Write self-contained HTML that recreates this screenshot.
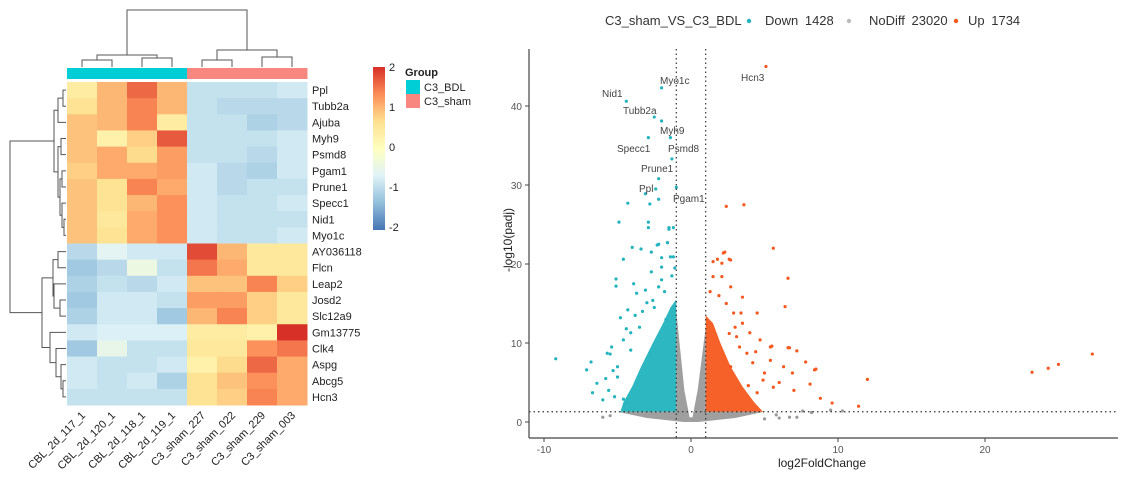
<!DOCTYPE html>
<html><head><meta charset="utf-8"><style>
html,body{margin:0;padding:0;background:#fff;}
svg{display:block;font-family:"Liberation Sans","DejaVu Sans",sans-serif;}
</style></head><body>
<svg id="root" width="1124" height="477" viewBox="0 0 1124 477" xmlns="http://www.w3.org/2000/svg">
<g id="heat"></g>
<g id="volc"></g>
</svg>
<script>
// ---------- Heatmap data ----------
const genes = ["Ppl","Tubb2a","Ajuba","Myh9","Psmd8","Pgam1","Prune1","Specc1","Nid1","Myo1c","AY036118","Flcn","Leap2","Josd2","Slc12a9","Gm13775","Clk4","Aspg","Abcg5","Hcn3"];
const samples = ["CBL_2d_117_1","CBL_2d_120_1","CBL_2d_118_1","CBL_2d_119_1","C3_sham_227","C3_sham_022","C3_sham_229","C3_sham_003"];
const sampleGroups = ["C3_BDL","C3_BDL","C3_BDL","C3_BDL","C3_sham","C3_sham","C3_sham","C3_sham"];
const zValues = [
[0.4,1.0,1.6,1.0,-0.9,-0.9,-0.9,-0.8],
[0.6,1.0,1.4,1.0,-0.9,-1.0,-1.0,-1.0],
[0.9,1.0,1.4,0.4,-0.9,-0.9,-1.1,-1.0],
[0.9,0.3,0.8,1.7,-0.9,-0.9,-0.9,-0.8],
[0.9,1.1,0.7,1.2,-0.9,-0.9,-1.0,-0.8],
[0.8,1.1,1.1,1.2,-0.8,-1.0,-1.1,-0.8],
[0.9,0.6,1.4,1.1,-0.8,-1.0,-0.9,-0.9],
[0.9,0.6,1.0,1.3,-0.8,-0.9,-0.9,-0.8],
[0.9,0.5,1.1,1.3,-0.8,-0.9,-0.9,-0.9],
[0.9,0.6,1.1,1.3,-0.8,-0.9,-0.9,-0.8],
[-1.0,-0.6,-0.8,-0.8,1.8,1.0,0.5,0.5],
[-1.2,-1.0,-0.4,-0.9,1.5,1.1,0.5,0.5],
[-1.1,-0.9,-1.0,-0.8,0.9,0.9,1.4,0.8],
[-1.2,-0.8,-0.8,-0.9,1.2,1.2,0.8,0.5],
[-1.1,-0.8,-0.8,-1.2,1.0,1.4,0.8,0.5],
[-0.8,-0.7,-0.7,-0.7,0.4,0.4,0.3,2.0],
[-1.2,-0.5,-0.9,-0.9,0.5,0.5,1.3,1.5],
[-0.8,-0.9,-0.9,-0.8,0.3,0.7,1.6,1.1],
[-0.8,-0.9,-0.8,-1.1,0.6,0.9,1.3,1.1],
[-0.9,-0.9,-0.9,-0.9,0.6,0.8,1.4,1.1]];
const legendTicks = [2,1,0,-1,-2];

// ---------- Volcano data ----------
const legendLabels = ["Down 1428","NoDiff 23020","Up 1734"];
const xTicks = [-10,0,10,20];
const yTicks = [0,10,20,30,40];
const fcCut = 1, padjLine = 1.3;
const downDense = [[-1,1.3],[-4.8,1.3],[-4.6,2.5],[-4.0,4.5],[-3.4,7],[-2.6,10],[-1.9,12.5],[-1.4,14.5],[-1,15.5]];
const upDense = [[1,1.3],[4.9,1.3],[4.3,2.5],[3.5,4.5],[2.7,7],[2.0,10],[1.5,12.5],[1,13.5]];
const grayDense = [[-5,1.3],[-1,1.3],[-1,14],[-0.45,4],[-0.1,0.6],[0.1,0.6],[0.45,4],[1,12],[1,1.3],[5,1.3],[3,0.5],[0.5,0],[-0.5,0],[-3,0.5]];
const downPts = [[-2.0,42.3],[-4.4,40.6],[-2.5,38.6],[-2.0,38.1],[-2.9,36],[-1.4,36],[-1.3,33.3],[-2.2,30.8],[-2.4,29.5],[-3.1,28.9],[-2.2,28.2],[-2.8,27.6],[-4.3,27.7],[-1.0,29.7],[-4.9,25.3],[-2.9,25.3],[-2.9,24.6],[-1.5,24.6],[-1.2,24.6],[-4.0,22.1],[-3.4,21.9],[-2.7,21.5],[-2.2,22.5],[-1.6,22.7],[-4.6,20.6],[-2.0,20.8],[-1.2,20.9],[-5.1,18.1],[-5.1,17.2],[-9.2,8.0],[-6.8,7.6],[-7.1,6.6],[-6.7,3.7],[-6.4,4.9],[-5.7,8.7],[-5.5,8.6],[-5.4,9.5],[-4.3,14.2],[-4.8,13.2],[-3.7,16.3],[-3.1,16.7],[-2.2,17.1],[-2.3,22.4],[-1.6,22.7],[-1.5,24.4],[-4.1,9.1],[-5.0,5.7],[-5.6,4.0],[-4.6,10.4],[-4.1,11.3],[-3.5,12.0],[-3.0,15.1],[-2.6,15.4],[-2.0,18.0],[-2.0,19.6],[-1.4,20.9],[-5.0,7.0],[-4.6,2.9],[-6.0,2.8],[-3.8,13.5],[-3.3,14.0],[-2.5,14.5],[-1.8,16.5],[-1.3,18.5],[-1.1,19.5],[-4.4,11.8],[-5.3,6.5],[-5.8,5.5],[-5.2,3.2],[-3.9,17.5],[-2.7,19.0],[-1.7,13.0]];
const upPts = [[5.1,45],[2.4,27.3],[3.6,27.5],[5.6,22.0],[1.5,20.3],[1.8,20.6],[2.2,21.4],[2.3,21.5],[2.6,20.6],[2.1,20.1],[6.6,18.2],[6.4,14.6],[3.5,15.8],[3.4,13.8],[2.7,20.5],[1.5,18.4],[2.1,18.4],[2.7,17.1],[5.4,9.5],[6.6,9.4],[7.2,9.0],[7.8,7.6],[8.4,6.6],[12.0,5.4],[5.4,7.8],[6.3,7.0],[6.9,6.2],[8.1,4.8],[4.9,5.3],[4.5,3.7],[5.6,4.4],[4.0,11.3],[4.7,10.4],[3.5,12.5],[3.1,10.8],[2.9,13.8],[4.5,13.8],[3.8,8.7],[2.7,7.0],[27.3,8.6],[25.0,7.3],[24.3,6.8],[23.2,6.3],[8.5,6.7],[6.7,9.4],[5.5,9.6],[11.4,2.0],[1.9,16.0],[2.4,15.0],[1.3,16.5],[3.0,12.0],[3.3,9.5],[4.2,7.5],[5.0,6.2],[6.0,5.0],[7.0,4.0],[8.8,3.0],[9.6,2.4],[3.9,4.6],[4.4,8.9],[2.6,11.2]];
const grayPts = [[9.5,1.5],[10.3,1.4],[6.7,0.6],[7.2,0.6],[6.0,0.5],[5.0,0.4],[8.2,1.2],[7.6,1.4],[5.8,0.9],[-5.5,0.8],[-6.0,0.6]];
const volcLabels = [["Myo1c",-2.0,42.3,660,80],["Nid1",-4.4,40.6,602,93],["Tubb2a",-2.5,38.6,623,110],["Myh9",-1.4,36,660,130],["Specc1",-2.9,36,617,148],["Psmd8",-1.3,33.3,668,148],["Prune1",-2.2,30.8,641,168],["Ppl",-2.4,29.5,639,188],["Pgam1",-1.0,29.7,673,198],["Hcn3",5.1,45,741,77]];

const NS="http://www.w3.org/2000/svg";
function mk(parent,tag,attrs,text){const e=document.createElementNS(NS,tag);for(const k in attrs)e.setAttribute(k,attrs[k]);if(text!==undefined)e.textContent=text;parent.appendChild(e);return e;}

// ---------- Heatmap ----------
const heat=document.getElementById('heat');
const hx0=67,hx1=307,hy0=82,hy1=405;
const cw=(hx1-hx0)/samples.length, rh=(hy1-hy0)/genes.length;
const stops=["#4575B4","#91BFDB","#E0F3F8","#FFFFBF","#FEE090","#FC8D59","#D73027"];
function hex(c){return [parseInt(c.substr(1,2),16),parseInt(c.substr(3,2),16),parseInt(c.substr(5,2),16)];}
function colorFor(v){let t=(Math.max(-2,Math.min(2,v))+2)/4*(stops.length-1);let i=Math.min(stops.length-2,Math.floor(t));let f=t-i;const a=hex(stops[i]),b=hex(stops[i+1]);return `rgb(${a.map((x,k)=>Math.round(x+(b[k]-x)*f)).join(',')})`;}
const grpColor={"C3_BDL":"#00CED6","C3_sham":"#F8877F"};
samples.forEach((s,j)=>{
  const r=mk(heat,'rect',{x:hx0+j*cw,y:68,width:cw+0.5,height:11,fill:grpColor[sampleGroups[j]]});
  
  
});
zValues.forEach((row,i)=>{row.forEach((v,j)=>{
  const r=mk(heat,'rect',{x:hx0+j*cw,y:hy0+i*rh,width:cw+0.5,height:rh+0.5,fill:colorFor(v)});
  
  
});});
genes.forEach((g,i)=>{
  const t=mk(heat,'text',{x:312,y:hy0+(i+0.5)*rh+4,'font-size':11,fill:'#222'},g);
  
  
});
samples.forEach((s,j)=>{
  const cx=hx0+(j+0.5)*cw+4, cy=416;
  const t=mk(heat,'text',{x:cx,y:cy,'font-size':11,fill:'#222','text-anchor':'end',transform:`rotate(-45 ${cx} ${cy})`},s);
  
  
});
const colX=j=>hx0+(j+0.5)*cw;
function drawTree(node,horizontal){
  const leafH=horizontal?66:67;
  if(typeof node==='number'){return [horizontal?hy0+(node+0.5)*rh:colX(node),leafH];}
  const a=drawTree(node[1],horizontal),b=drawTree(node[2],horizontal),h=node[0];
  let d;
  if(horizontal) d=`M${a[1]},${a[0]}H${h}V${b[0]}H${b[1]}`;
  else d=`M${a[0]},${a[1]}V${h}H${b[0]}V${b[1]}`;
  const p=mk(heat,'path',{d:d,fill:'none',stroke:'#555','stroke-width':1});
  
  
  return [(a[0]+b[0])/2,h];
}
drawTree([10,[55,[60,0,1],[58,2,3]],[50,[60,4,5],[57,6,7]]],false);
drawTree([10,[54,[58,[63,0,1],2],[58,[61,3,4],[60,[62,5,6],[62,7,[64,8,9]]]]],[42,[53,[58,10,11],[54,12,[60,13,14]]],[50,15,[56,16,[61,17,[63,18,19]]]]]],true);
const defs=mk(heat,'defs',{});
const lg=mk(defs,'linearGradient',{id:'cg',x1:0,y1:1,x2:0,y2:0});
stops.forEach((c,i)=>mk(lg,'stop',{offset:(i/(stops.length-1)),'stop-color':c}));
const cbar=mk(heat,'rect',{x:373,y:67,width:12,height:163,fill:'url(#cg)'});


legendTicks.forEach(v=>{
  const t=mk(heat,'text',{x:389,y:67+(2-v)/4*160+4,'font-size':11,fill:'#222'},String(v));
  
  
});
const gt=mk(heat,'text',{x:405,y:76,'font-size':11,'font-weight':'bold',fill:'#222'},'Group');


["C3_BDL","C3_sham"].forEach((g,i)=>{
  const r=mk(heat,'rect',{x:406,y:80+i*14,width:14,height:14,fill:grpColor[g]});
  
  
  const t=mk(heat,'text',{x:424,y:91+i*14,'font-size':11,fill:'#222'},g);
  
  
});

// ---------- Volcano ----------
const volc=document.getElementById('volc');
const X=v=>691+v*14.7, Y=v=>422-v*7.9;
const TEAL="#22B3BE", ORANGE="#F4581E", GRAY="#9A9A9A";
function poly(arr,fill,name){const p=mk(volc,'polygon',{points:arr.map(q=>X(q[0])+','+Y(q[1])).join(' '),fill:fill,opacity:0.95});}
poly(grayDense,GRAY,'nodiff-density');
poly(downDense,TEAL,'down-density');
poly(upDense,ORANGE,'up-density');
function pts(arr,fill,name){arr.forEach(q=>{const c=mk(volc,'circle',{cx:X(q[0]),cy:Y(q[1]),r:1.6,fill:fill});});}
pts(grayPts,GRAY,'nodiff-point');
pts(downPts,TEAL,'down-point');
pts(upPts,ORANGE,'up-point');
[-fcCut,fcCut].forEach(v=>{const l=mk(volc,'line',{x1:X(v),x2:X(v),y1:49,y2:438,stroke:'#333','stroke-width':1.2,'stroke-dasharray':'1.5 3'});});
const hl=mk(volc,'line',{x1:529,x2:1118,y1:Y(padjLine),y2:Y(padjLine),stroke:'#333','stroke-width':1.2,'stroke-dasharray':'1.5 3'});


const ya=mk(volc,'line',{x1:529,x2:529,y1:49,y2:438,stroke:'#444','stroke-width':1.2});

const xa=mk(volc,'line',{x1:529,x2:1118,y1:438,y2:438,stroke:'#444','stroke-width':1.2});

yTicks.forEach(v=>{
  const l=mk(volc,'line',{x1:525,x2:529,y1:Y(v),y2:Y(v),stroke:'#444'});
  
  const t=mk(volc,'text',{x:522,y:Y(v)+4,'font-size':10,fill:'#555','text-anchor':'end'},String(v));
  
});
xTicks.forEach(v=>{
  const l=mk(volc,'line',{x1:X(v),x2:X(v),y1:438,y2:442,stroke:'#444'});
  
  const t=mk(volc,'text',{x:X(v),y:453,'font-size':10,fill:'#555','text-anchor':'middle'},String(v));
  
});
const xt=mk(volc,'text',{x:822,y:467,'font-size':12,fill:'#222','text-anchor':'middle'},'log2FoldChange');

const yt=mk(volc,'text',{x:512,y:240,'font-size':12,fill:'#222','text-anchor':'middle',transform:'rotate(-90 512 240)'},'-log10(padj)');

volcLabels.forEach(q=>{
  const t=mk(volc,'text',{x:q[3],y:q[4]+4,'font-size':10,fill:'#444'},q[0]);
  
});
const ht=mk(volc,'text',{x:605,y:25,'font-size':13,fill:'#333'},'C3_sham_VS_C3_BDL');

const lgX=[[749,765],[849,869],[956,968]];
const lgC=[TEAL,"#BBBBBB",ORANGE];
const lgNames=['legend-entry-down','legend-entry-nodiff','legend-entry-up'];
legendLabels.forEach((s,i)=>{
  const g=mk(volc,'g',{});
  
  mk(g,'circle',{cx:lgX[i][0],cy:21,r:2.2,fill:lgC[i]});
  mk(g,'text',{x:lgX[i][1],y:25,'font-size':13,fill:'#333','word-spacing':'3px'},s);
});
</script>
</body></html>
